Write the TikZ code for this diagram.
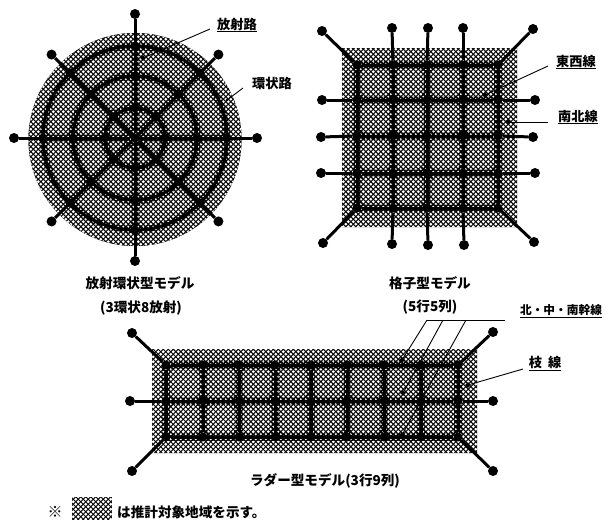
\documentclass[tikz,border=0pt]{standalone}
\usepackage{fontspec}
\usetikzlibrary{patterns,shapes.geometric}
\newfontfamily\cjk{Noto Sans CJK JP}
\pgfdeclarepatternformonly{chk}{\pgfqpoint{-1pt}{-1pt}}{\pgfqpoint{6pt}{6pt}}{\pgfqpoint{5pt}{5pt}}{%
  \pgfpathcircle{\pgfqpoint{0.8pt}{0.8pt}}{1.6pt}%
  \pgfpathcircle{\pgfqpoint{3.3pt}{3.3pt}}{1.6pt}%
  \pgfusepath{fill}}
\pgfdeclarepatternformonly{chkd}{\pgfqpoint{-1pt}{-1pt}}{\pgfqpoint{6pt}{6pt}}{\pgfqpoint{5pt}{5pt}}{%
  \pgfpathcircle{\pgfqpoint{0.8pt}{0.8pt}}{1.1pt}%
  \pgfpathcircle{\pgfqpoint{3.3pt}{3.3pt}}{1.1pt}%
  \pgfusepath{fill}}
\tikzset{
  hatch/.style={fill=black,postaction={pattern=chk,pattern color=white}},
  darkhatch/.style={fill=black,postaction={pattern=chkd,pattern color=white}},
  jn/.style={circle,fill=black,inner sep=0pt,minimum size=9pt},
  tn/.style={circle,fill=black,inner sep=0pt,minimum size=10pt},
  ptm/.style={diamond,fill=black,inner sep=0pt,minimum size=6pt},
  road/.style={line width=3pt,black},
  lead/.style={line width=0.9pt,black},
  captxt/.style={font=\cjk\bfseries\fontsize{13.6}{15}\selectfont,inner sep=0pt},
  lab/.style={font=\cjk\bfseries\fontsize{13.2}{15}\selectfont,inner sep=1pt},
}
\begin{document}
\begin{tikzpicture}[x=1pt,y=-1pt]
\useasboundingbox (0,0) rectangle (609,520);
% ---------- radial model ----------
\path[darkhatch] (135,139.5) circle[radius=106.5pt];
\path[hatch,even odd rule] (135,139.5) circle[radius=106.5pt] (135,138) circle[radius=95pt];
\begin{scope}[shift={(135,138)},rounded corners=4pt]
  \foreach \ra/\rb in {34/58,66/88}{
    \foreach \a in {0,45,...,315}{
      \pgfmathsetmacro{\da}{3.5/\ra*57.3}
      \pgfmathsetmacro{\db}{3.5/\rb*57.3}
      \path[hatch] (\a+\da:\ra pt) arc[start angle=\a+\da,end angle=\a+45-\da,radius=\ra pt]
        -- (\a+45-\db:\rb pt) arc[start angle=\a+45-\db,end angle=\a+\db,radius=\rb pt] -- cycle;
    }
  }
  \foreach \a in {0,45,...,315}{
    \pgfmathsetmacro{\db}{3.5/26*57.3}
    \path[hatch,rounded corners=2pt] (\a+22.5:10pt) -- (\a+\db:26pt) arc[start angle=\a+\db,end angle=\a+45-\db,radius=26pt] -- cycle;
  }
\end{scope}
\foreach \r/\n in {30/a,62/b,92/c}{
  \foreach \ang in {0,45,...,315}{
    \node[jn] (\n\ang) at ({135+\r*cos(\ang)},{138+\r*sin(\ang)}) {};
  }
}
\node[jn] (rc) at (135,138) {};
\foreach \r in {30,62,92}{\draw[road] (rc.center) circle[radius=\r pt];}
\foreach \ang/\R in {0/122,45/118,90/123,135/118,180/121,225/118,270/124,315/118}{
  \node[tn] (t\ang) at ({135+\R*cos(\ang)},{138+\R*sin(\ang)}) {};
  \draw[road] (rc) -- (t\ang);
}
% ---------- grid model ----------
\path[darkhatch] (342,48) rectangle (517,227);
\path[hatch,even odd rule] (342,48) rectangle (517,227) (353,61) rectangle (502,212);
\foreach \x/\i in {357/1,393/2,427/3,463/4,498/5}{
  \foreach \y/\j in {65/1,100/2,136/3,173/4,208/5}{
    \node[jn] (g\i\j) at (\x,\y) {};
  }
}
\foreach \i/\k in {1/2,2/3,3/4,4/5}{
  \foreach \j/\l in {1/2,2/3,3/4,4/5}{
    \path[hatch,rounded corners=5pt] ([shift={(3.5,3.5)}]g\i\j.center) rectangle ([shift={(-3.5,-3.5)}]g\k\l.center);
  }
}
\foreach \j in {1,...,5}{\draw[road] (g1\j) -- (g5\j);}
\foreach \i in {1,...,5}{\draw[road] (g\i1) -- (g\i5);}
\foreach \n/\x/\y/\f in {gt1/322/31/g11,gt2/392/28/g21,gt3/428/28/g31,gt4/463/28/g41,gt5/533/29/g51,
  gl2/322/100/g12,gl3/321/137/g13,gl4/321/173/g14,
  gr2/535/100/g52,gr3/533/137/g53,gr4/535/173/g54,
  gb1/323/243/g15,gb2/392/244/g25,gb3/428/245/g35,gb4/464/245/g45,gb5/534/242/g55}{
  \node[tn] (\n) at (\x,\y) {};
  \draw[road] (\f) -- (\n);
}
% ---------- ladder model ----------
\path[darkhatch] (152,349) rectangle (477,453);
\path[hatch,even odd rule] (152,349) rectangle (477,453) (162,361) rectangle (462,441);
\foreach \x/\i in {166/1,203/2,239/3,275/4,311/5,347/6,384/7,421/8,458/9}{
  \foreach \y/\j in {365/1,401/2,437/3}{
    \node[jn] (l\i\j) at (\x,\y) {};
  }
}
\foreach \i/\k in {1/2,2/3,3/4,4/5,5/6,6/7,7/8,8/9}{
  \foreach \j/\l in {1/2,2/3}{
    \path[hatch,rounded corners=5pt] ([shift={(3.5,3.5)}]l\i\j.center) rectangle ([shift={(-3.5,-3.5)}]l\k\l.center);
  }
}
\foreach \i in {1,...,9}{\draw[road] (l\i1) -- (l\i3);}
\foreach \j in {1,2,3}{\draw[road] (l1\j) -- (l9\j);}
\foreach \n/\x/\y/\f in {lt1/132/333/l11,lt2/493/332/l91,lm1/130/401/l12,lm2/493/401/l92,lb1/132/471/l13,lb2/493/471/l93}{
  \node[tn] (\n) at (\x,\y) {};
  \draw[road] (\f) -- (\n);
}
% ---------- labels and leaders ----------
\node[lab] (houshaL) at (237,25) {\underline{放射路}};
\node[ptm] (p1) at (143,58) {};
\coordinate (c1) at (210,29);
\draw[lead] (c1) -- (p1);
\node[lab] (kanL) at (272,83) {環状路};
\node[ptm,minimum size=3pt] (p2) at (227,100) {};
\coordinate (c2) at (243,88);
\draw[lead] (c2) -- (p2);
\node[lab] (tozaiL) at (576,62) {\underline{東西線}};
\node[ptm] (p3) at (485,95) {};
\coordinate (c3) at (548,66);
\draw[lead] (c3) -- (p3);
\node[lab] (nanL) at (578,117) {\underline{南北線}};
\node[ptm] (p4) at (508,122) {};
\coordinate (c4) at (548,122);
\draw[lead] (c4) -- (p4);
\node[lab,font=\cjk\bfseries\fontsize{11.7}{14}\selectfont] (kanseL) at (561,311) {\underline{北・中・南幹線}};
\coordinate (h0) at (505,320);
\coordinate (h1) at (427,320);
\coordinate (h2) at (443,320);
\coordinate (h3) at (466,320);
\draw[lead] (h0) -- (h1);
\node[ptm] (p5) at (402,360) {};
\node[ptm] (p6) at (403,393) {};
\node[ptm] (p7) at (402,435) {};
\draw[lead] (h1) -- (p5);
\draw[lead] (h2) -- (p6);
\draw[lead] (h3) -- (p7);
\node[lab] (edaL) at (545,363) {\underline{枝\hspace{6pt}線}};
\node[ptm] (p8) at (468,385) {};
\coordinate (c8) at (523,369);
\draw[lead] (c8) -- (p8);
% ---------- captions ----------
\node[captxt] (m1) at (140,283) {放射環状型モデル};
\node[captxt] (m1b) at (141,308) {(3環状8放射)};
\node[captxt] (m2) at (430,283) {格子型モデル};
\node[captxt] (m2b) at (430,307) {(5行5列)};
\node[captxt] (m3) at (325,481) {ラダー型モデル(3行9列)};
\node[captxt,font=\cjk\bfseries\fontsize{15}{15}\selectfont] (kome) at (55,512) {※};
\path[hatch] (72,497) rectangle (112,520);
\node[captxt,anchor=west] (legend) at (117,512) {は推計対象地域を示す。};
\end{tikzpicture}
\end{document}
